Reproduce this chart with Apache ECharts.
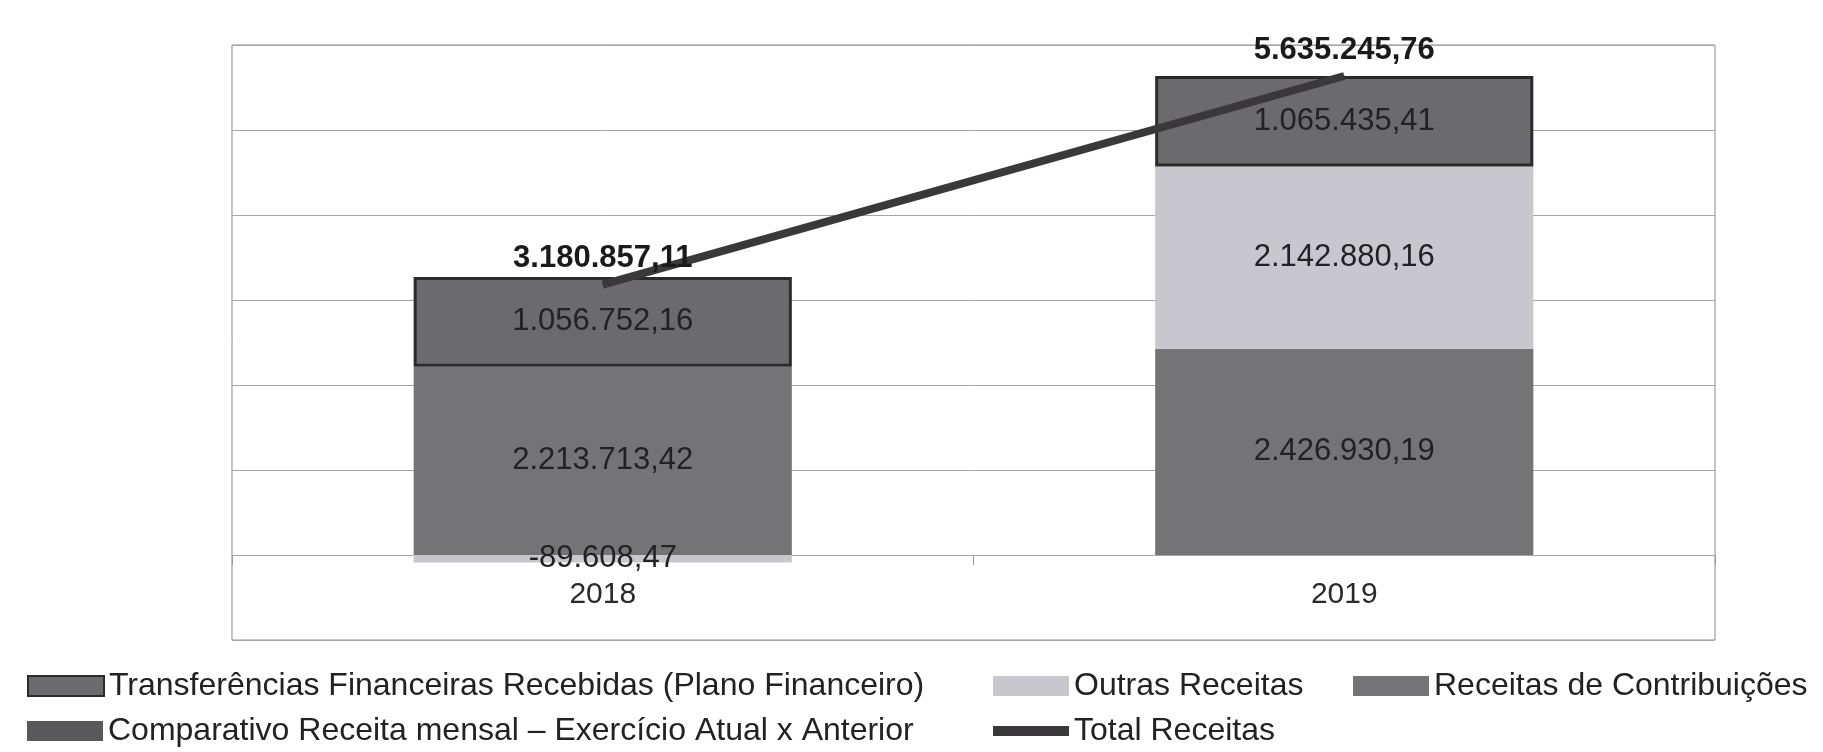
<!DOCTYPE html>
<html>
<head>
<meta charset="utf-8">
<script src="https://cdn.jsdelivr.net/npm/echarts@6/dist/echarts.min.js"></script>
<style>
html,body{margin:0;padding:0;background:#fff;}
#chart{width:1823px;height:752px;}
</style>
</head>
<body>
<div id="chart"></div>
<script>
const categories = ['2018', '2019'];
const contribuicoes = [2213713.42, 2426930.19];
const outras = [-89608.47, 2142880.16];
const transferencias = [1056752.16, 1065435.41];
const comparativo = [];
const total = [3180857.11, 5635245.76];

const names = {
  transf: 'Transferências Financeiras Recebidas (Plano Financeiro)',
  comp: 'Comparativo Receita mensal – Exercício Atual x Anterior',
  outras: 'Outras Receitas',
  contrib: 'Receitas de Contribuições',
  total: 'Total Receitas'
};

function fmt(v) {
  const neg = v < 0;
  const parts = Math.abs(v).toFixed(2).split('.');
  return (neg ? '-' : '') + parts[0].replace(/\B(?=(\d{3})+(?!\d))/g, '.') + ',' + parts[1];
}

const FONT = '"Liberation Sans", Arial, sans-serif';
const barLabel = {
  show: true, position: 'inside', fontSize: 31, color: '#222', fontFamily: FONT,
  formatter: p => fmt(p.value)
};
const legendText = { fontSize: 32, color: '#222', fontFamily: FONT, lineHeight: 34 };
function legendAt(left, top, item) {
  return {
    orient: 'horizontal', left: left, top: top, itemWidth: 76, itemHeight: 20,
    padding: 0, icon: 'rect', textStyle: legendText, selectedMode: false,
    data: [item]
  };
}
const ROW1 = 669, ROW2 = 714;

const chart = echarts.init(document.getElementById('chart'), null, { renderer: 'canvas' });
chart.setOption({
  animation: false,
  backgroundColor: '#ffffff',
  grid: {
    left: 232, right: 108, top: 45, bottom: 112,
    show: true, borderColor: '#8c8c8c', borderWidth: 1, backgroundColor: 'transparent'
  },
  legend: [
    legendAt(27, ROW1, names.transf),
    legendAt(27, ROW2, names.comp),
    legendAt(993, ROW1, names.outras),
    legendAt(993, ROW2, { name: names.total, icon: 'path://M0,0 H76 V10 H0 Z' }),
    legendAt(1353, ROW1, names.contrib)
  ],
  xAxis: {
    type: 'category',
    data: categories,
    position: 'bottom',
    offset: -85,
    axisLine: { show: true, onZero: false, lineStyle: { color: '#a5a5a5' } },
    axisTick: { show: true, length: 10, lineStyle: { color: '#999' } },
    axisLabel: { fontSize: 30, color: '#2a2a2a', margin: 25, fontFamily: FONT }
  },
  yAxis: {
    type: 'value',
    min: -1000000, max: 6000000, interval: 1000000,
    axisLabel: { show: false },
    axisLine: { show: false },
    axisTick: { show: false },
    splitLine: { lineStyle: { color: '#a5a5a5', width: 1 } }
  },
  series: [
    {
      name: names.contrib, type: 'bar', stack: 'a', barWidth: '51%',
      data: contribuicoes,
      itemStyle: { color: '#747476' },
      label: barLabel
    },
    {
      name: names.outras, type: 'bar', stack: 'a',
      data: outras,
      itemStyle: { color: '#c7c7cd' },
      label: barLabel
    },
    {
      name: names.transf, type: 'bar', stack: 'a',
      data: transferencias,
      itemStyle: { color: '#6b6b6d', borderColor: '#2b2b2b', borderWidth: 3 },
      label: barLabel
    },
    {
      name: names.comp, type: 'bar', stack: 'a',
      data: comparativo,
      itemStyle: { color: '#59595b' }
    },
    {
      name: names.total, type: 'line',
      data: total,
      z: 10,
      symbol: 'circle', symbolSize: 1, showSymbol: true,
      itemStyle: { color: '#3a383b' },
      lineStyle: { color: '#3a383b', width: 8 },
      label: {
        show: true, position: 'top', distance: 10,
        fontSize: 31, fontWeight: 'bold', color: '#1a1a1a', fontFamily: FONT,
        formatter: p => fmt(p.value)
      }
    }
  ]
});
</script>
</body>
</html>
